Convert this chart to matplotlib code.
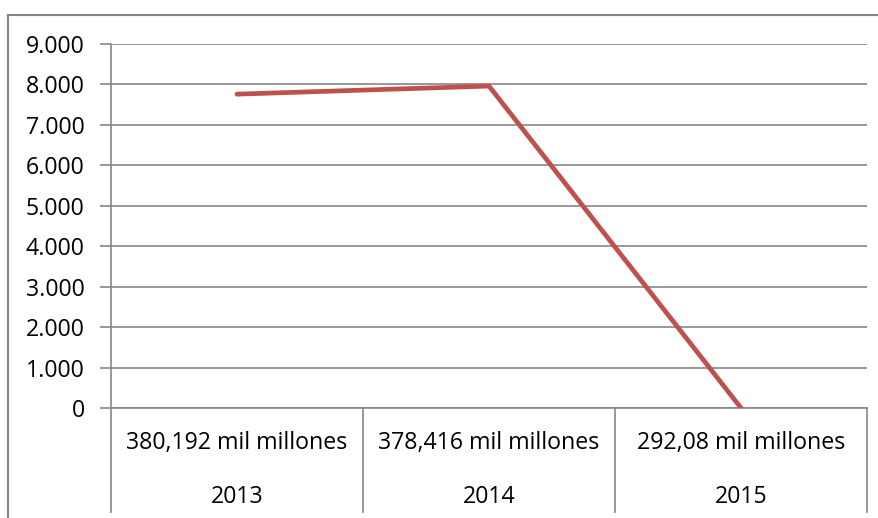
import matplotlib
matplotlib.use('Agg')
import matplotlib.pyplot as plt
from matplotlib.lines import Line2D

plt.rcParams['font.family'] = ['Open Sans', 'DejaVu Sans']

# ─── data ───
years = ['2013', '2014', '2015']
amounts = ['380,192 mil millones', '378,416 mil millones', '292,08 mil millones']
values = [7760, 7960, 0]
yticks = [0, 1000, 2000, 3000, 4000, 5000, 6000, 7000, 8000, 9000]

W, H = 879, 518
GRID = '#868686'
LINE = '#C0504D'
FS = 16.7

fig = plt.figure(figsize=(W / 100, H / 100), dpi=100, facecolor='white')

# plot area in pixel coords
x0, x1, ytop, ybot = 111, 867, 44, 408
ax = fig.add_axes([x0 / W, (H - ybot) / H, (x1 - x0) / W, (ybot - ytop) / H])

xs = [i + 0.5 for i in range(len(years))]
ax.plot(xs, values, color=LINE, lw=3.4, solid_capstyle='round', solid_joinstyle='round', zorder=3)

ax.set_xlim(0, len(years))
ax.set_ylim(0, 9000)
ax.set_yticks(yticks)
ax.set_yticklabels([f'{v:,}'.replace(',', '.') for v in yticks], fontsize=FS)
ax.tick_params(axis='y', length=8, color=GRID, width=1.2, pad=11)
ax.set_xticks([])
ax.yaxis.grid(True, color=GRID, lw=1.2)
ax.set_axisbelow(True)
for s in ['top', 'right']:
    ax.spines[s].set_visible(False)
for s in ['left', 'bottom']:
    ax.spines[s].set_color(GRID)
    ax.spines[s].set_linewidth(1.2)

# multi-level category axis
tr = ax.get_xaxis_transform()
row_h = (ybot - ytop)
for i, (a, y) in enumerate(zip(amounts, years)):
    ax.text(i + 0.5, -(443 - ybot) / row_h, a, transform=tr, ha='center', va='center', fontsize=FS)
    ax.text(i + 0.5, -(497 - ybot) / row_h, y, transform=tr, ha='center', va='center', fontsize=FS)
for i in range(len(years) + 1):
    ax.add_line(Line2D([i, i], [0, -(512 - ybot) / row_h], transform=tr, color=GRID,
                       lw=1.2, clip_on=False))

# outer chart border (cropped)
fig.add_artist(Line2D([8 / W, 1], [(H - 15) / H] * 2, transform=fig.transFigure, color=GRID, lw=1.5))
fig.add_artist(Line2D([8 / W, 8 / W], [0, (H - 15) / H], transform=fig.transFigure, color=GRID, lw=1.5))

fig.savefig('out.png', dpi=100, facecolor='white')
